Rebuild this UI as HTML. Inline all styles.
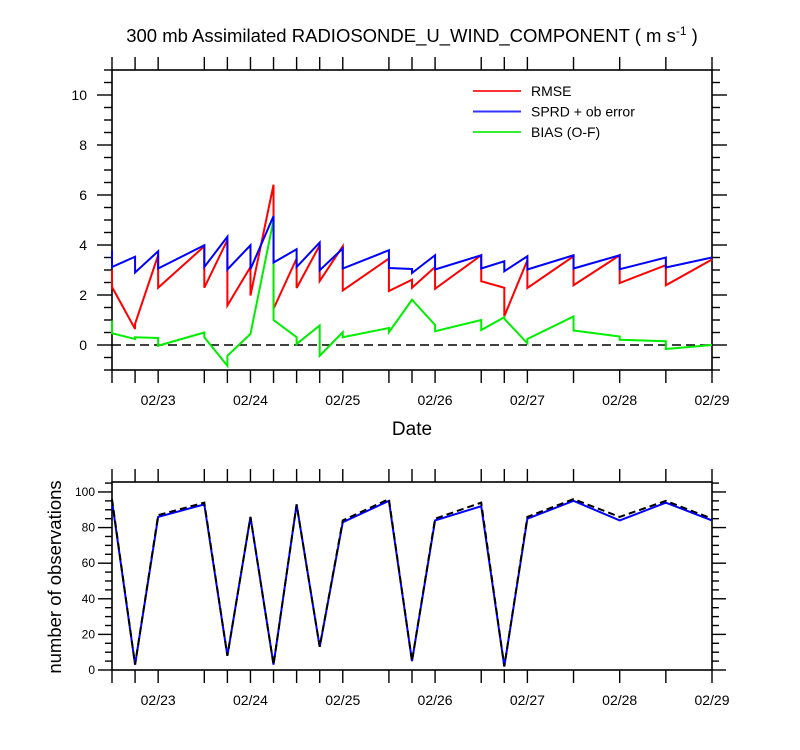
<!DOCTYPE html>
<html><head><meta charset="utf-8"><style>
body{margin:0;background:#fff;}
svg{display:block;font-family:"Liberation Sans",sans-serif;}
</style></head><body>
<svg id="chart" width="800" height="750"></svg>
<script>
const times=[0.5,0.75,1.0,1.5,1.75,2.0,2.25,2.5,2.75,3.0,3.5,3.75,4.0,4.5,4.75,5.0,5.5,6.0,6.5,7.0];
const rmseF=[3.0,0.64,3.59,3.95,4.20,3.12,6.41,3.46,3.99,3.95,3.46,2.61,3.12,3.59,2.29,3.39,3.55,3.59,3.19,3.42];
const rmseA=[2.32,0.85,2.29,2.29,1.58,1.98,1.45,2.28,2.56,2.18,2.16,2.29,2.25,2.55,1.15,2.28,2.39,2.48,2.39,3.42];
const sprdF=[3.79,3.53,3.75,3.99,4.33,3.99,5.16,3.83,4.10,3.86,3.79,3.04,3.59,3.59,3.35,3.55,3.59,3.59,3.50,3.50];
const sprdA=[3.12,2.90,3.06,3.12,3.02,3.03,3.30,3.12,2.99,3.06,3.08,2.88,3.02,3.06,2.95,3.02,3.06,3.03,3.10,3.50];
const biasF=[0.98,0.24,0.28,0.50,-0.83,0.44,5.00,0.31,0.78,0.51,0.68,1.81,0.80,1.00,1.11,0.07,1.14,0.34,0.15,0.0];
const biasA=[0.47,0.31,-0.03,0.31,-0.43,0.44,1.00,0.04,-0.43,0.31,0.51,1.81,0.55,0.60,1.05,0.24,0.58,0.21,-0.16,0.0];
const nObsUsed=[95,3,86,93,8,86,3,93,13,83,95,5,84,92,2,85,95,84,94,84];
const nObsTotal=[96,3,87,94,8,86,3,93,13,84,96,5,85,94,2,86,96,86,95,85];
const dayTicks=[1,2,3,4,5,6,7];
const dayLabels=["02/23","02/24","02/25","02/26","02/27","02/28","02/29"];
const yTop=[0,2,4,6,8,10];
const yBot=[0,20,40,60,80,100];

const NS="http://www.w3.org/2000/svg";
const svg=document.getElementById('chart');
function mk(tag,attrs,parent){const e=document.createElementNS(NS,tag);for(const k in attrs)e.setAttribute(k,attrs[k]);(parent||svg).appendChild(e);return e;}
const X0=112,X1=712;
const xs=t=>X0+(t-0.5)*(X1-X0)/6.5;
const yT=v=>70+(11-v)*25;
const yB=v=>670-v*(188/105.6);

function frame(top,bot,name){
  const g=mk('g',{});
  
  
  mk('rect',{x:X0,y:top,width:X1-X0,height:bot-top,fill:'none',stroke:'#000','stroke-width':1.6},g);
  const all=times.slice();
  for(const d of dayTicks) if(!all.includes(d)) all.push(d);
  for(const t of all){
    const x=xs(t);
    mk('line',{x1:x,x2:x,y1:top-13,y2:top,stroke:'#000','stroke-width':1.4},g);
    mk('line',{x1:x,x2:x,y1:bot,y2:bot+13,stroke:'#000','stroke-width':1.4},g);
  }
  dayTicks.forEach((d,i)=>{
    const t=mk('text',{x:xs(d),y:bot+35,'text-anchor':'middle','font-size':14},g);
    t.textContent=dayLabels[i];
    
    
  });
  return g;
}
const title=mk('text',{x:412,y:42,'text-anchor':'middle','font-size':18.5});


title.innerHTML='300 mb Assimilated RADIOSONDE_U_WIND_COMPONENT ( m s<tspan dy="-7" font-size="12">-1</tspan><tspan dy="7"> )</tspan>';

frame(70,370,'top-panel');
for(let v=-1;v<=11;v+=0.5){
  const y=yT(v);const major=Math.abs(v%2)<1e-9;
  const len=major?15:8;
  mk('line',{x1:X0-len,x2:X0,y1:y,y2:y,stroke:'#000','stroke-width':1.4});
  mk('line',{x1:X1,x2:X1+len,y1:y,y2:y,stroke:'#000','stroke-width':1.4});
}
yTop.forEach(v=>{const t=mk('text',{x:87,y:yT(v)+5,'text-anchor':'end','font-size':14});t.textContent=v;
});
const zero=mk('line',{x1:X0,x2:X1,y1:yT(0),y2:yT(0),stroke:'#000','stroke-width':1.4,'stroke-dasharray':'9,5'});


function saw(f,a,color,name){
  let d='';
  times.forEach((t,i)=>{d+=(i?'L':'M')+xs(t)+','+yT(f[i])+'L'+xs(t)+','+yT(a[i]);});
  const p=mk('path',{d:d,fill:'none',stroke:color,'stroke-width':2,'stroke-linejoin':'miter'});
  
  
}
saw(rmseF,rmseA,'#ff0000','rmse-line');
saw(biasF,biasA,'#00ee00','bias-line');
saw(sprdF,sprdA,'#0000ff','sprd-line');

const leg=[['RMSE','#ff3333'],['SPRD + ob error','#3333ff'],['BIAS (O-F)','#33ee33']];
const lg=mk('g',{});
leg.forEach((l,i)=>{const y=91+i*20.5;
  mk('line',{x1:473,x2:521,y1:y,y2:y,stroke:l[1],'stroke-width':2},lg);
  const t=mk('text',{x:531,y:y+5,'font-size':14},lg);t.textContent=l[0];
  });

const xt=mk('text',{x:412,y:435,'text-anchor':'middle','font-size':19});xt.textContent='Date';


frame(482,670,'bottom-panel');
for(let v=0;v<=105;v+=5){
  const y=yB(v);const major=v%20===0;const len=major?14:7;
  mk('line',{x1:X0-len,x2:X0,y1:y,y2:y,stroke:'#000','stroke-width':1.4});
  mk('line',{x1:X1,x2:X1+len,y1:y,y2:y,stroke:'#000','stroke-width':1.4});
}
yBot.forEach(v=>{const t=mk('text',{x:95,y:yB(v)+4,'text-anchor':'end','font-size':12});t.textContent=v;
});
const yt=mk('text',{x:61,y:577,'text-anchor':'middle','font-size':18.5,transform:'rotate(-90 61 577)'});
yt.textContent='number of observations';

function line(vals,color,dash,name){
  const d=times.map((t,i)=>(i?'L':'M')+xs(t)+','+yB(vals[i])).join('');
  const p=mk('path',{d:d,fill:'none',stroke:color,'stroke-width':2});
  if(dash)p.setAttribute('stroke-dasharray',dash);
  
  
}
line(nObsUsed,'#0000ff',null,'obs-used-line');
line(nObsTotal,'#000',"7,4",'obs-total-line');
</script>
</body></html>
